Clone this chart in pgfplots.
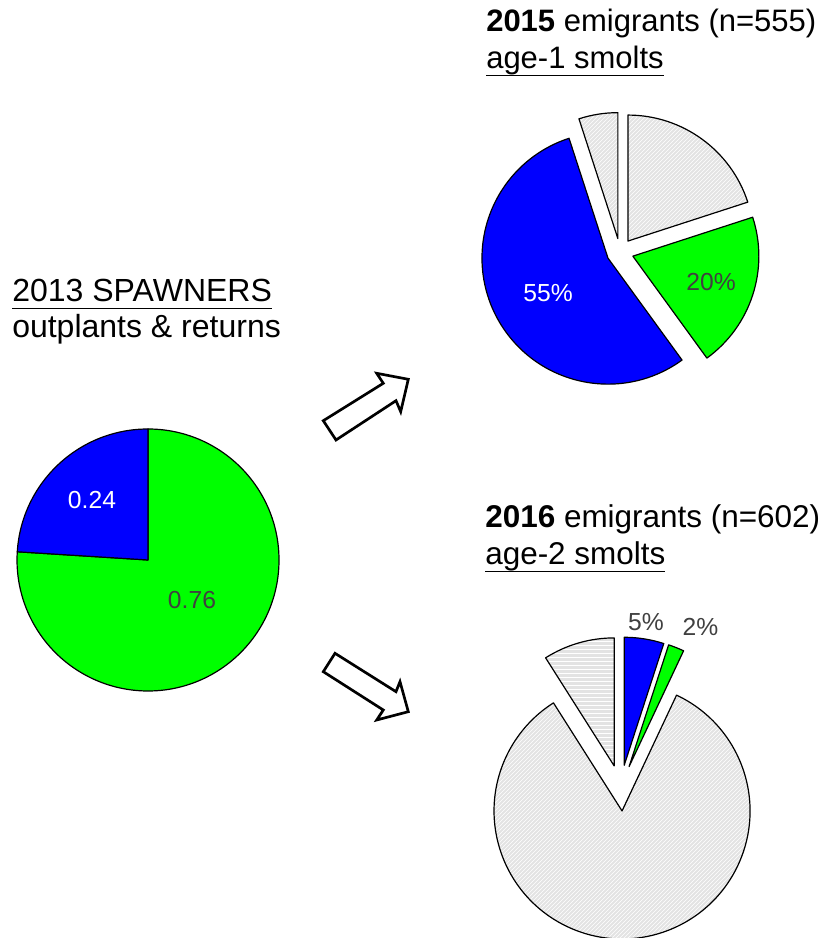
\documentclass[border=0pt]{standalone}
\usepackage{pgfplots}
\pgfplotsset{compat=1.18}
\usetikzlibrary{patterns}
\usepackage{fontspec}
\setmainfont{Liberation Sans}

\definecolor{pieblue}{RGB}{0,0,255}
\definecolor{piegreen}{RGB}{0,255,0}
\definecolor{lbl}{RGB}{64,64,64}

% underline drawn as a rule under the text
\newcommand{\ul}[1]{\setbox0\hbox{#1}\rlap{\rule[-5.6pt]{\wd0}{1.4pt}}\box0}

% one pie: centre (px), radius (px), explode (px); slices go clockwise from the top
\newcommand{\setpie}[4]{\def\pcx{#1}\def\pcy{#2}\def\pR{#3}\def\pD{#4}\gdef\pang{90}}
\newcommand{\pieslice}[2]{%
  \pgfmathsetmacro{\sEnd}{\pang-360*#1}%
  \pgfmathsetmacro{\sMid}{\pang-180*#1}%
  \pgfmathsetmacro{\sR}{\pR*0.75}%
  \pgfmathsetmacro{\sD}{\pD*0.75}%
  \edef\temp{\noexpand\filldraw[#2] (axis cs:\pcx,\pcy) ++(\sMid:\sD pt) -- ++(\pang:\sR pt)
    arc[start angle=\pang, end angle=\sEnd, radius=\sR pt] -- cycle;}%
  \temp
  \global\let\pang\sEnd}

\tikzset{
  sl/.style={draw=black, line width=0.9pt, line join=round},
  grayA/.style={sl, pattern=north east lines, pattern color=white, preaction={fill=black!11}},
  grayB/.style={sl, pattern=horizontal lines, pattern color=white, preaction={fill=black!11}},
  title/.style={anchor=base west, inner sep=0pt, font=\fontsize{23.25}{28}\selectfont},
  titleL/.style={anchor=base west, inner sep=0pt, font=\fontsize{24}{28}\selectfont},
  titleM/.style={anchor=base west, inner sep=0pt, font=\fontsize{23.6}{28}\selectfont},
  val/.style={inner sep=0pt, font=\fontsize{18.5}{22}\selectfont},
}

\begin{document}
\begin{tikzpicture}
\begin{axis}[
    width=618.75pt, height=703.5pt, scale only axis,
    xmin=0, xmax=825, ymin=0, ymax=938,
    hide axis, clip=true,
]
% 2013 spawners
\setpie{148}{378}{131}{0}
\pieslice{0.76}{sl, fill=piegreen}
\pieslice{0.24}{sl, fill=pieblue}

% 2015 emigrants
\setpie{620}{686}{126}{13.5}
\pieslice{0.20}{grayA}
\pieslice{0.20}{sl, fill=piegreen}
\pieslice{0.55}{sl, fill=pieblue}
\pieslice{0.05}{grayA}

% 2016 emigrants
\setpie{620.6}{150}{128}{23}
\pieslice{0.05}{sl, fill=pieblue}
\pieslice{0.02}{sl, fill=piegreen}
\pieslice{0.84}{grayA}
\pieslice{0.09}{grayB}

% arrows
\addplot[fill=white, draw=black, line width=2pt, line join=miter, mark=none] coordinates {
    (323.3,517.3) (383.3,554.7) (376.7,564.7) (408.3,558.7) (400.7,526.3) (396,537.3) (336,498)
} -- cycle;
\addplot[fill=white, draw=black, line width=2pt, line join=miter, mark=none] coordinates {
    (335,284.7) (396,246.3) (400,256.3) (408.3,226.3) (376.7,218) (383.3,228) (323.3,266.3)
} -- cycle;

% value labels
\node[val, text=white] at (axis cs:92,438) {0.24};
\node[val, text=lbl] at (axis cs:192,338) {0.76};
\node[val, text=white] at (axis cs:548,645) {55\%};
\node[val, text=lbl] at (axis cs:711,656) {20\%};
\node[val, text=lbl] at (axis cs:646,316) {5\%};
\node[val, text=lbl] at (axis cs:700.5,311) {2\%};

% titles
\node[titleL] at (axis cs:12,636) {\ul{2013 SPAWNERS}};
\node[titleL] at (axis cs:12,600) {outplants \& returns};
\node[title] at (axis cs:486,906) {\textbf{2015} emigrants (n=555)};
\node[title] at (axis cs:486,869) {\ul{age-1 smolts}};
\node[titleM] at (axis cs:485,410) {\textbf{2016} emigrants (n=602)};
\node[titleM] at (axis cs:485,373) {\ul{age-2 smolts}};
\end{axis}
\pgfresetboundingbox
\useasboundingbox (current axis.south west) rectangle (current axis.north east);
\end{tikzpicture}
\end{document}
